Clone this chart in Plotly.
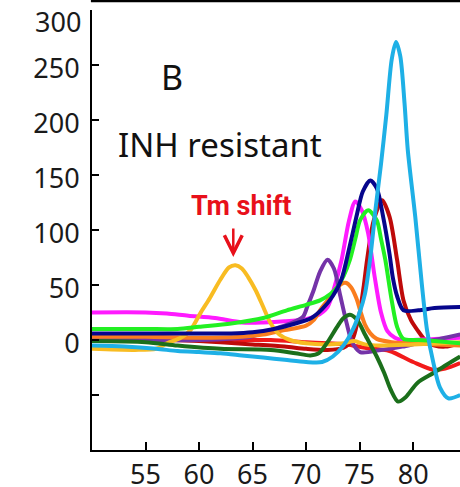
import plotly.graph_objects as go

# ---------------- data ----------------
x_ticks = [55, 60, 65, 70, 75, 80]
y_ticks = [-50, 0, 50, 100, 150, 200, 250, 300]
y_ticktext = ["", "0", "50", "100", "150", "200", "250", ""]
top_label_value = 300
top_label_text = "300"

red_x = [50, 54, 58, 62, 64, 66.7, 70, 72, 73.8, 75.5, 77.8, 80, 81.9, 83, 84.4]
red_y = [3, 3, 2, 1, 0, 0, -2, -3, -4, -7, -10, -20, -27, -26, -21]

darkred_x = [50, 55, 60, 65, 68, 70, 72, 73.5, 74.3, 74.7, 75.05, 75.4, 75.7, 76.3, 77.1, 77.8, 78.5, 79.1, 79.8, 80.4, 81.3, 82, 83, 84.4]
darkred_y = [2, 1, -1, -4, -6, -8, -9, -7, 0, 12, 27, 50, 73, 108, 127, 112, 73, 36, 18, 9, -2, -5, -6, -3]

magenta_x = [50, 55, 57, 59, 61.5, 64, 66, 68, 70, 71, 72, 72.7, 73.3, 74, 74.6, 75.2, 75.8, 76.4, 77, 77.6, 78.3, 79, 80, 82, 84.4]
magenta_y = [25, 25, 24, 22, 20, 16, 16, 17, 19, 22, 30, 50, 72, 108, 126, 118, 97, 58, 25, 8, 2, 0, 0, 1, 2]

purple_x = [50, 55, 60, 64.8, 66.7, 68.5, 69.7, 70.1, 70.7, 71.3, 72, 72.6, 73.2, 73.8, 74.3, 75.05, 77, 79, 80.4, 82, 84.4]
purple_y = [1, 0, 0, 3, 9, 15, 21, 30, 45, 62, 73, 65, 40, 15, -2, -11, -9, -6, -3, 0, 5]

orange_x = [50, 55, 60, 64, 66, 68, 70, 70.7, 71.3, 72, 72.7, 73.3, 73.7, 74.2, 74.7, 75.05, 75.5, 76, 76.6, 78, 80, 82, 84.4]
orange_y = [3, 3, 2, 3, 5, 9, 13, 18, 27, 36, 45, 51, 52, 48, 38, 27, 14, 6, 1, -2, -3, -4, -5]

yellow_x = [50, 54, 56, 57, 58.3, 59.2, 60.1, 61, 62, 62.8, 63.4, 64, 64.6, 65.3, 66, 66.7, 67.5, 68.5, 70, 72, 73.5, 74.5, 75.5, 77, 80, 84.4]
yellow_y = [-8, -9, -8, -3, 2, 9, 24, 38, 55, 66, 68, 65, 57, 45, 30, 15, 5, 0, -3, -4, -3, -1, -4, -5, -4, -2]

dkgreen_x = [50, 55, 58, 62, 66.7, 69, 70.4, 71.2, 72, 72.9, 73.5, 74.1, 74.8, 75.5, 76.6, 77.3, 77.9, 78.6, 79.3, 80.4, 81.9, 83.2, 84.4]
dkgreen_y = [-1, -2, -5, -8, -9, -12, -14, -12, -2, 12, 20, 23, 18, 5, -15, -30, -45, -56, -52, -39, -30, -22, -15]

green_x = [50, 55, 58, 60, 63, 66, 68.2, 70, 71.3, 72.3, 72.9, 73.5, 74.1, 74.6, 75.05, 75.8, 76.6, 77.0, 77.4, 78.0, 78.5, 79.1, 80.5, 82, 84.4]
green_y = [10, 10, 10, 12, 15, 20, 27, 32, 36, 42, 48, 58, 73, 92, 109, 118, 109, 92, 73, 36, 12, 1, 0, -1, -3]

navy_x = [50, 55, 60, 63, 65, 67, 69, 70.5, 71.5, 72.5, 73.3, 74, 74.7, 75.3, 76, 76.6, 77.2, 77.8, 78.1, 78.5, 79.1, 80.5, 82, 84.4]
navy_y = [6, 6, 6, 6, 7, 10, 15, 20, 28, 40, 55, 82, 112, 135, 145, 138, 112, 78, 57, 40, 27, 27, 29, 30]

ltblue_x = [50, 53, 56, 58, 60, 62, 64, 66, 68, 70, 71.5, 72.5, 73.5, 74.3, 75.0, 75.5, 76.0, 76.5, 77.0, 77.5, 78.0, 78.4, 78.8, 79.2, 79.5, 80.2, 80.8, 81.3, 81.9, 82.5, 83.3, 84.4]
ltblue_y = [-5, -6, -8, -10, -11, -12, -14, -16, -18, -20, -20, -15, -5, 8, 25, 42, 75, 120, 160, 205, 255, 271, 258, 215, 173, 112, 52, 9, -21, -43, -53, -50]

series = [
    ("red", red_x, red_y, "#F21A1A"),
    ("dark red", darkred_x, darkred_y, "#BE0A0A"),
    ("magenta", magenta_x, magenta_y, "#FF1AFF"),
    ("purple", purple_x, purple_y, "#7433A8"),
    ("orange", orange_x, orange_y, "#FA7D1E"),
    ("yellow", yellow_x, yellow_y, "#F8BC22"),
    ("dark green", dkgreen_x, dkgreen_y, "#1B6F1B"),
    ("green", green_x, green_y, "#22F022"),
    ("navy", navy_x, navy_y, "#06068C"),
    ("light blue", ltblue_x, ltblue_y, "#1EB0E6"),
]

fig = go.Figure()
for name, xs, ys, col in series:
    fig.add_trace(go.Scatter(x=xs, y=ys, mode="lines", name=name,
                             line=dict(color=col, width=4, shape="spline", smoothing=0.8)))

tick_font = dict(family="Noto Sans, DejaVu Sans, sans-serif", size=27, color="#1a1a1a")

fig.update_layout(
    width=460, height=487,
    margin=dict(l=92, r=0, t=10, b=37),
    plot_bgcolor="white", paper_bgcolor="white",
    showlegend=False,
    xaxis=dict(range=[50, 84.38], tickvals=x_ticks, ticks="inside", ticklen=8, tickwidth=2,
               tickcolor="black", showline=True, linewidth=2, linecolor="black",
               showgrid=False, zeroline=False, tickfont=tick_font, automargin=False,
               ticklabelstandoff=0, ticklabeloverflow="allow"),
    yaxis=dict(range=[-100, 300], tickvals=y_ticks, ticktext=y_ticktext, ticks="inside",
               ticklen=7, tickwidth=2, tickcolor="black", showline=True, linewidth=2,
               linecolor="black", showgrid=False, zeroline=False, tickfont=tick_font,
               ticklabelstandoff=5, ticklabelshift=4, automargin=False,
               ticklabeloverflow="allow"),
)

# top "300" label sits lower than its tick in the reference
fig.add_annotation(xref="paper", x=0, y=top_label_value, text=top_label_text, showarrow=False,
                   xanchor="right", yanchor="middle", xshift=-9, yshift=-11,
                   font=tick_font)

fig.add_shape(type="line", xref="paper", yref="paper", x0=-0.003, x1=1,
              y0=1 + 9 / 440, y1=1 + 9 / 440, line=dict(color="black", width=2.5))

fig.add_annotation(x=57.5, y=239, text="B", showarrow=False, xanchor="center", yanchor="middle",
                   font=dict(family="Noto Sans, sans-serif", size=34, color="#111"))
fig.add_annotation(x=52.2, y=178, text="INH resistant", showarrow=False, xanchor="left",
                   yanchor="middle", font=dict(family="Noto Sans, sans-serif", size=33, color="#111"))
fig.add_annotation(x=59.1, y=122, text="<b>Tm shift</b>", showarrow=False, xanchor="left",
                   yanchor="middle",
                   font=dict(family="Liberation Sans Narrow, Roboto, sans-serif", size=27, color="#E8101A"))
fig.add_annotation(x=63.2, y=75.5, text="", showarrow=True, ax=0, ay=-30, axref="pixel", ayref="pixel",
                   arrowhead=5, arrowsize=1.4, arrowwidth=2.5, arrowcolor="#E8101A")

fig.write_html("out.html", config={"displayModeBar": False},
               post_script="document.body.style.margin='0px';")
